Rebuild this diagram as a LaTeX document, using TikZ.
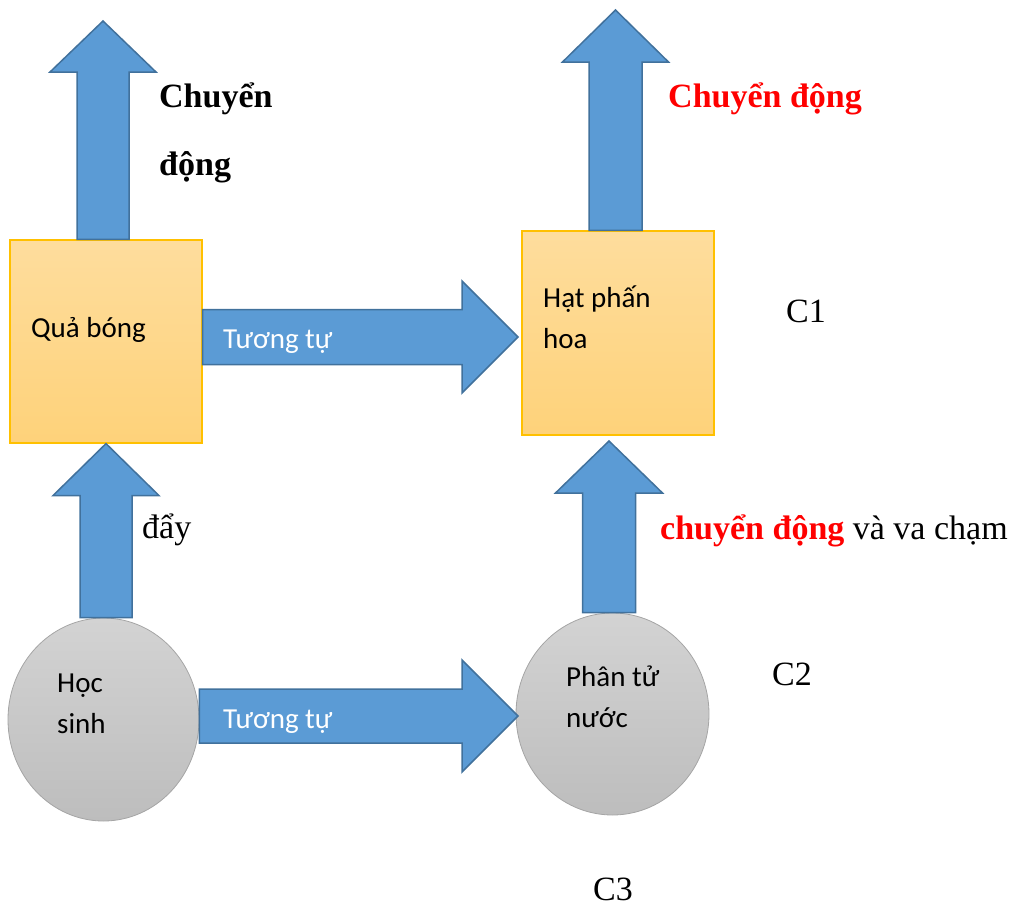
\documentclass[tikz,border=0pt]{standalone}
\usepackage{fontspec}
\setmainfont{Liberation Serif}
\newfontfamily\calibri{Carlito}
\usetikzlibrary{positioning, calc, shapes.geometric}
\definecolor{arrowblue}{HTML}{5B9BD5}
\definecolor{arrowedge}{HTML}{41719C}
\definecolor{boxtop}{HTML}{FEDD9D}
\definecolor{boxbot}{HTML}{FED27A}
\definecolor{boxedge}{HTML}{FFC000}
\definecolor{balltop}{HTML}{D3D3D3}
\definecolor{ballbot}{HTML}{BDBDBD}
\definecolor{balledge}{HTML}{A5A5A5}
% fat arrow: start, tip, half shaft, half head, head length
\newcommand{\fatarrow}[5]{%
  \coordinate (fat-h) at ($(#2)!#5!(#1)$);
  \draw[blockarrow] ($(#1)!#3!90:(#2)$) -- ($(fat-h)!#3!90:(#2)$)
    -- ($(fat-h)!#4!90:(#2)$) -- (#2) -- ($(fat-h)!#4!-90:(#2)$)
    -- ($(fat-h)!#3!-90:(#2)$) -- ($(#1)!#3!-90:(#2)$) -- cycle;}

\begin{document}
\begin{tikzpicture}[x=1pt, y=-1pt,
    blockarrow/.style={fill=arrowblue, draw=arrowedge, line width=1.5pt, line join=miter},
    squarebox/.style={rectangle, draw=boxedge, line width=1.2pt, top color=boxtop, bottom color=boxbot, minimum width=192pt, minimum height=203pt},
    roundnode/.style={ellipse, draw=balledge, line width=0.8pt, top color=balltop, bottom color=ballbot, minimum width=192pt, minimum height=203pt},
    inner/.style={font=\calibri\fontsize{29}{41}\selectfont, align=left, anchor=base west, inner sep=0pt},
    outer/.style={font=\fontsize{34}{68}\selectfont, align=left, anchor=base west, inner sep=0pt}]
    \useasboundingbox (0,0) rectangle (1018,906);
    \node[squarebox] (ball) at (106,341.5) {};
    \node[squarebox, minimum height=204pt] (pollen) at (618,333) {};
    \node[roundnode, minimum width=191pt] (student) at (103.5,719.5) {};
    \node[roundnode, minimum width=193pt, minimum height=202pt] (water) at (612.5,714) {};
    \coordinate (ballup) at (103,21);
    \coordinate (pollenup) at (615.5,10);
    \coordinate (sim1) at (518,337);
    \coordinate (sim2) at (518,716);
    \coordinate (hit) at (609,441);
    \fatarrow{ballup |- ball.north}{ballup}{26pt}{53pt}{51pt}
    \fatarrow{pollenup |- pollen.north}{pollenup}{26.5pt}{53pt}{52pt}
    \fatarrow{ball.east |- sim1}{sim1}{27.5pt}{56pt}{56pt}
    \fatarrow{ball.south |- student.north}{ball.south}{26pt}{53pt}{52pt}
    \fatarrow{hit |- water.north}{hit}{26.5pt}{53.5pt}{52pt}
    \fatarrow{student.east |- sim2}{sim2}{27pt}{56pt}{56pt}
    \node[outer] (move1) at (159,175) {\bfseries Chuyển\\\bfseries động};
    \node[outer, text=red] (move2) at (668,107) {\bfseries Chuyển động};
    \node[outer] (pushtext) at (142,538) {đẩy};
    \node[outer] (collision) at (660,539) {\textcolor{red}{\bfseries chuyển động} và va chạm};
    \node[outer] (c1) at (786,322) {C1};
    \node[outer] (c2) at (772,685) {C2};
    \node[outer] (c3) at (593,900) {C3};
    \node[inner] (balltext) at (31,337) {Quả bóng};
    \node[inner, text=white] (simtext1) at (223,348) {Tương tự};
    \node[inner, text=white] (simtext2) at (223,728) {Tương tự};
    \node[inner] (pollentext) at (543,348) {Hạt phấn\\hoa};
    \node[inner] (studenttext) at (57,733) {Học\\sinh};
    \node[inner] (watertext) at (566,727) {Phân tử\\nước};
\end{tikzpicture}
\end{document}
